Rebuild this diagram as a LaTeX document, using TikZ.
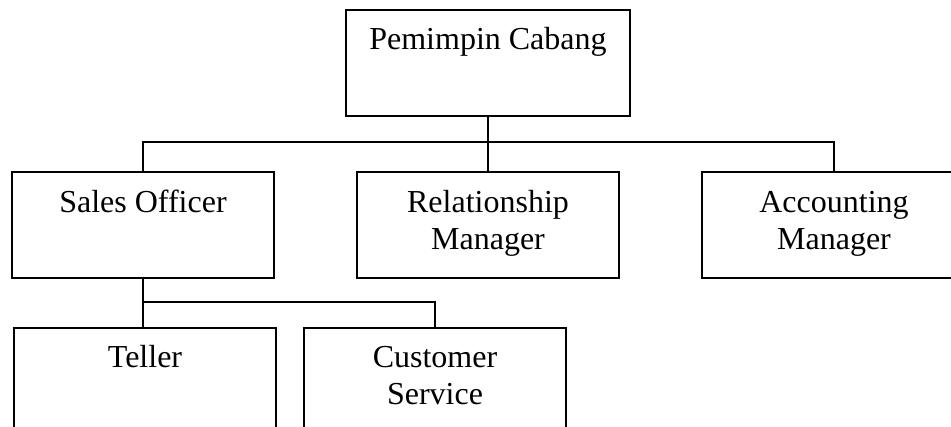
\documentclass[tikz,border=0pt]{standalone}
\usepackage{fontspec}
\setmainfont{Liberation Serif}
\tikzset{
  orgbox/.style={draw=black, fill=white, line width=2pt, inner sep=0pt, anchor=north west},
  conn/.style={draw=black, line width=1.3pt}
}
\newcommand{\boxtext}[3]{\parbox[t][106pt][t]{#1pt}{\centering\fontsize{32}{36.8}\selectfont\rule{0pt}{#2pt}#3}}
\begin{document}
\begin{tikzpicture}[x=1pt,y=-1pt]
\useasboundingbox (0,0) rectangle (951,427);
\clip (0,0) rectangle (951,427);
\fill[white] (0,0) rectangle (951,427);
\node[orgbox] (top) at (345,9) {\boxtext{284}{40}{Pemimpin Cabang}};
\node[orgbox] (sales) at (11,171) {\boxtext{262}{41}{Sales Officer}};
\node[orgbox] (rel) at (356,171) {\boxtext{262}{41}{Relationship\\Manager}};
\node[orgbox] (acc) at (701,171) {\boxtext{264}{41}{Accounting\\Manager}};
\node[orgbox] (teller) at (13,327) {\boxtext{262}{40}{Teller}};
\node[orgbox] (cs) at (303,327) {\boxtext{262}{40}{Customer\\Service}};
\coordinate (j1) at (487,142);
\coordinate (j2) at (142,302);
\draw[conn] (top.south) -- (rel.north);
\draw[conn] (sales.north) |- (j1) -| (acc.north);
\draw[conn] (sales.south) -- (sales.south |- teller.north);
\draw[conn] (j2) -| (cs.north);
\end{tikzpicture}
\end{document}
